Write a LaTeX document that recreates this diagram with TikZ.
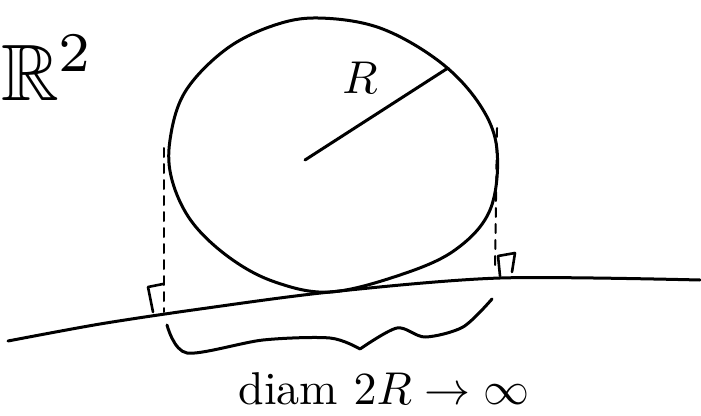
\documentclass[tikz,border=0pt]{standalone}
\usepackage{amssymb}
\begin{document}
\begin{tikzpicture}[x=1pt, y=-1pt, line cap=round, line join=round,
  stroke/.style={line width=3pt}, guide/.style={line width=2pt, dash pattern=on 9pt off 7pt},
  rightangle/.style={line width=2.6pt}, hand/.style={scale=4.6}]
			\useasboundingbox (0,0) rectangle (701,415);
			\node[scale=8] (plane) at (48,68) {$\mathbb{R}^2$};
			\draw[stroke] plot[smooth cycle, tension=.6] coordinates {(318,18) (380,28) (440,62) (480,105) (497,150) (490,210) (455,250) (400,275) (330,292) (275,282) (230,258) (192,222) (172,180) (170,140) (185,92) (225,50) (272,26)};
			\coordinate (centre) at (305,160);
			\coordinate (rim) at (448,68);
			\draw[stroke] (centre) -- (rim);
			\node[hand] (radius) at (360,78) {$R$};
			\draw[stroke] plot[smooth, tension=.5] coordinates {(8,341) (100,324) (200,309) (330,292) (500,278) (700,280)};
			\draw[guide] (164,148) -- (164,312);
			\draw[guide] (497,128) -- (495,270);
			\draw[rightangle] (153,312) -- (148,287) -- (163,284);
			\draw[rightangle] (500,276) -- (498,256) -- (515,253) -- (512,272);
			\coordinate (notch) at (360,349);
			\draw[stroke] plot[smooth, tension=.5] coordinates {(167,325) (187,353) (263,340) (330,338) (notch)}
			  plot[smooth, tension=.5] coordinates {(notch) (397,328) (425,337) (463,327) (492,299)};
			\node[hand] (diam) at (384,389) {diam $2R\to\infty$};
			\end{tikzpicture}
\end{document}
